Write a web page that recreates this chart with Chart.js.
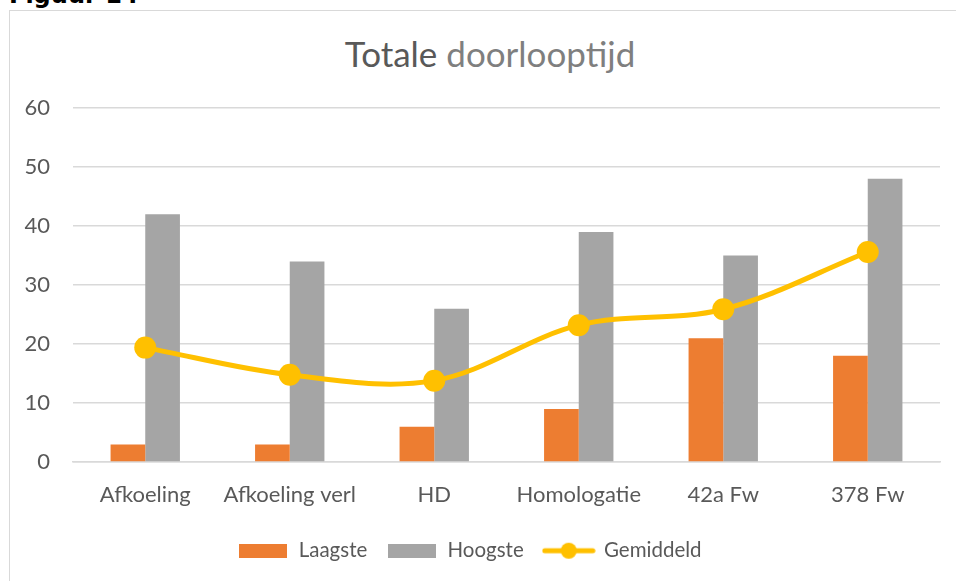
<!DOCTYPE html>
<html>
<head>
<meta charset="utf-8">
<script src="https://cdn.jsdelivr.net/npm/chart.js@4.4.0/dist/chart.umd.min.js"></script>
<style>
  html, body { margin: 0; padding: 0; background: #fff; overflow: hidden; }
  #page { position: relative; width: 956px; height: 581px; }
  #fig { position: absolute; left: 9px; top: -17px; font: bold 24px/24px "DejaVu Sans", sans-serif; color: #000; }
  #frame { position: absolute; left: 9px; top: 10px; width: 960px; height: 600px; border: 1.5px solid #d9d9d9; box-sizing: border-box; }
  #title { position: absolute; left: 0; width: 980px; top: 32px; text-align: center; font: 35px Lato, sans-serif; color: #595959; }
  #title .b { color: #7f7f7f; }
  canvas { position: absolute; left: 0; top: 0; }
</style>
</head>
<body>
<div id="page">
  <div id="fig">Figuur 14</div>
  <div id="frame"></div>
  <div id="title">Totale <span class="b">doorlooptijd</span></div>
  <canvas id="chart" width="956" height="581"></canvas>
</div>
<script>
const categories = ['Afkoeling', 'Afkoeling verl', 'HD', 'Homologatie', '42a Fw', '378 Fw'];
const laagste = [3, 3, 6, 9, 21, 18];
const hoogste = [42, 34, 26, 39, 35, 48];
const gemiddeld = [19.4, 14.8, 13.8, 23.2, 25.9, 35.6];
const yTicks = [0, 10, 20, 30, 40, 50, 60];

const ORANGE = '#ED7D31';
const GREY = '#A5A5A5';
const GOLD = '#FFC000';
const TEXT = '#595959';

// legend symbols as small canvases
function swatch(color) {
    const c = document.createElement('canvas');
    c.width = 48; c.height = 14;
    const g = c.getContext('2d');
    g.fillStyle = color;
    g.fillRect(0, 0, 48, 14);
    return c;
}
function lineSymbol() {
    const c = document.createElement('canvas');
    c.width = 54; c.height = 20;
    const g = c.getContext('2d');
    g.strokeStyle = GOLD;
    g.lineWidth = 5;
    g.lineCap = 'round';
    g.beginPath(); g.moveTo(3, 10); g.lineTo(51, 10); g.stroke();
    g.fillStyle = GOLD;
    g.beginPath(); g.arc(27, 10, 8, 0, Math.PI * 2); g.fill();
    return c;
}
const symbols = [swatch(ORANGE), swatch(GREY), lineSymbol()];

const ctx = document.getElementById('chart').getContext('2d');
new Chart(ctx, {
    type: 'bar',
    data: {
        labels: categories,
        datasets: [
            {
                label: 'Laagste',
                data: laagste,
                backgroundColor: ORANGE,
                categoryPercentage: 0.48,
                barPercentage: 1,
                order: 2
            },
            {
                label: 'Hoogste',
                data: hoogste,
                backgroundColor: GREY,
                categoryPercentage: 0.48,
                barPercentage: 1,
                order: 2
            },
            {
                type: 'line',
                label: 'Gemiddeld',
                data: gemiddeld,
                borderColor: GOLD,
                backgroundColor: GOLD,
                borderWidth: 5,
                tension: 0.35,
                pointRadius: 11,
                pointBorderWidth: 0,
                pointHoverRadius: 11,
                fill: false,
                order: 0
            }
        ]
    },
    options: {
        responsive: false,
        animation: false,
        layout: { padding: { left: 0, right: 16, top: 108, bottom: 10 } },
        scales: {
            x: {
                grid: { display: false },
                border: { display: true, color: '#d9d9d9', width: 1.5 },
                ticks: { color: TEXT, font: { family: 'Lato', size: 22 }, padding: 12, maxRotation: 0 }
            },
            y: {
                min: 0,
                max: 60,
                afterBuildTicks: axis => { axis.ticks = yTicks.map(v => ({ value: v })); },
                afterFit: axis => { axis.width = 73; },
                grid: { color: '#d9d9d9', lineWidth: 1.5, drawTicks: false },
                border: { display: false },
                ticks: { color: TEXT, font: { family: 'Lato', size: 22 }, padding: 23 }
            }
        },
        plugins: {
            title: { display: false },
            tooltip: { enabled: false },
            legend: {
                position: 'bottom',
                labels: {
                    color: TEXT,
                    font: { family: 'Lato', size: 20.5 },
                    usePointStyle: true,
                    pointStyleWidth: 50,
                    boxHeight: 14,
                    padding: 20,
                    generateLabels: chart => chart.data.datasets.map((ds, i) => ({
                        text: ds.label,
                        fontColor: TEXT,
                        pointStyle: symbols[i],
                        datasetIndex: i,
                        hidden: false,
                        lineWidth: 0
                    }))
                }
            }
        }
    }
});
</script>
</body>
</html>
